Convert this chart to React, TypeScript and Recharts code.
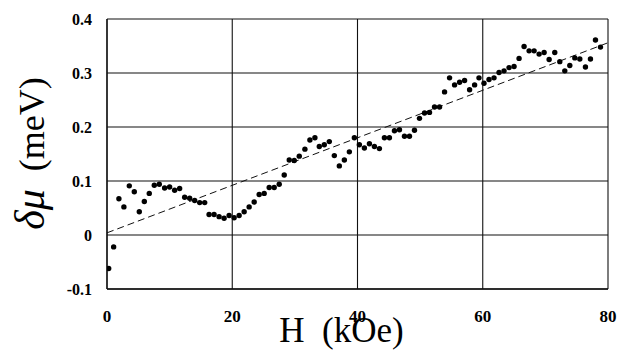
import React from "react";
import { ScatterChart, Scatter, XAxis, YAxis, CartesianGrid, Label } from "recharts";

const hValues = [
  0.27, 1.06, 1.9, 2.7, 3.56, 4.36, 5.16, 5.96, 6.75, 7.55, 8.35, 9.2, 10.0, 10.8, 11.6, 12.4, 13.2, 14.0, 14.8, 15.6,
  16.3, 17.1, 17.9, 18.7, 19.5, 20.3, 21.1, 21.9, 22.7, 23.5, 24.3, 25.1, 25.9, 26.7, 27.5, 28.3, 29.1, 29.9, 30.7, 31.6,
  32.4, 33.2, 33.9, 34.7, 35.5, 36.3, 37.1, 37.9, 38.7, 39.5, 40.3, 41.1, 41.9, 42.7, 43.5, 44.3, 45.1, 45.9, 46.7, 47.5,
  48.3, 49.1, 49.9, 50.7, 51.5, 52.3, 53.1, 53.9, 54.7, 55.5, 56.3, 57.1, 57.9, 58.7, 59.4, 60.2, 61.0, 61.8, 62.6, 63.4,
  64.2, 65.0, 65.8, 66.6, 67.4, 68.2, 69.0, 69.8, 70.6, 71.5, 72.3, 73.1, 73.9, 74.7, 75.5, 76.4, 77.2, 78.0, 78.8,
];
const deltaMu = [
  -0.062, -0.022, 0.067, 0.052, 0.091, 0.08, 0.043, 0.062, 0.077, 0.092, 0.094, 0.087, 0.089, 0.083, 0.086, 0.07, 0.068, 0.064, 0.06, 0.06,
  0.038, 0.038, 0.034, 0.031, 0.036, 0.032, 0.036, 0.043, 0.052, 0.061, 0.075, 0.077, 0.088, 0.088, 0.094, 0.111, 0.139, 0.138, 0.146, 0.159,
  0.176, 0.18, 0.164, 0.167, 0.173, 0.147, 0.128, 0.139, 0.154, 0.18, 0.167, 0.161, 0.169, 0.164, 0.16, 0.18, 0.18, 0.193, 0.195, 0.183,
  0.183, 0.194, 0.216, 0.226, 0.227, 0.237, 0.237, 0.265, 0.291, 0.278, 0.283, 0.286, 0.269, 0.278, 0.291, 0.281, 0.288, 0.291, 0.301, 0.304,
  0.31, 0.312, 0.327, 0.349, 0.341, 0.341, 0.335, 0.338, 0.325, 0.338, 0.321, 0.304, 0.314, 0.328, 0.326, 0.311, 0.326, 0.361, 0.348,
];
const fitH = [0, 80];
const fitMu = [0.004, 0.356];
const xTicks = [0, 20, 40, 60, 80];
const yTicks = [-0.1, 0, 0.1, 0.2, 0.3, 0.4];
const yTickLabels = ["-0.1", "0", "0.1", "0.2", "0.3", "0.4"];

const points = hValues.map((h, i) => ({ h, v: deltaMu[i] }));
const fitPoints = fitH.map((h, i) => ({ h, v: fitMu[i] }));

const SERIF = "Liberation Serif, DejaVu Serif, Noto Serif, serif";

const YTick = (props: any) => {
  const { x, y, payload } = props;
  const idx = yTicks.indexOf(payload.value);
  return (
    <text x={x} y={y} dy="0.36em" textAnchor="end" fontFamily={SERIF} fontWeight="bold" fontSize={16} fill="#000">
      {idx >= 0 ? yTickLabels[idx] : String(payload.value)}
    </text>
  );
};

const XTick = (props: any) => {
  const { x, y, payload } = props;
  return (
    <text x={x} y={y} dy="0.71em" textAnchor="middle" fontFamily={SERIF} fontWeight="bold" fontSize={17} fill="#000">
      {String(payload.value)}
    </text>
  );
};

const XTitle = (props: any) => {
  const vb = props.viewBox || { x: 107, width: 501 };
  const cx = vb.x + vb.width / 2 - 16;
  return (
    <text x={cx} y={342} textAnchor="middle" fontFamily={SERIF} fontSize={35} fill="#000">
      {"H\u2002(kOe)"}
    </text>
  );
};

const YTitle = () => {
  const x = 44;
  const y = 153.5;
  return (
    <text x={x} y={y} transform={`rotate(-90, ${x}, ${y})`} textAnchor="middle" fontFamily={SERIF} fontSize={36} fill="#000">
      <tspan fontStyle="italic" fontSize={42}>{"δμ"}</tspan>
      <tspan>{"\u2002(meV)"}</tspan>
    </text>
  );
};

const NoShape = () => null;

const Dot = (props: any) => {
  const { cx, cy } = props;
  if (cx == null || cy == null) return null;
  return <circle cx={cx} cy={cy} r={2.7} fill="#000" />;
};

export default function App() {
  return (
    <div style={{ position: "absolute", left: 0, top: 0, width: 625, height: 358, background: "#fff" }}>
      <ScatterChart width={625} height={358} margin={{ top: 19, right: 17, bottom: 0, left: 0 }}>
        <CartesianGrid stroke="#111" strokeWidth={1.1} horizontalValues={yTicks} verticalValues={xTicks} />
        <XAxis
          type="number"
          dataKey="h"
          domain={[0, 80]}
          ticks={xTicks}
          height={69}
          tickLine={false}
          axisLine={{ stroke: "#111", strokeWidth: 1.3 }}
          tickSize={0}
          tickMargin={21}
          tick={<XTick />}
          allowDataOverflow
        >
          <Label content={<XTitle />} />
        </XAxis>
        <YAxis
          type="number"
          dataKey="v"
          domain={[-0.1, 0.4]}
          ticks={yTicks}
          width={107}
          tickLine={false}
          axisLine={{ stroke: "#111", strokeWidth: 1.3 }}
          tickSize={0}
          tickMargin={15}
          tick={<YTick />}
          allowDataOverflow
        >
          <Label content={<YTitle />} />
        </YAxis>
        <Scatter
          data={fitPoints}
          line={{ stroke: "#111", strokeWidth: 1, strokeDasharray: "7 4" }}
          shape={<NoShape />}
          isAnimationActive={false}
        />
        <Scatter data={points} fill="#000" shape={<Dot />} isAnimationActive={false} />
      </ScatterChart>
    </div>
  );
}
